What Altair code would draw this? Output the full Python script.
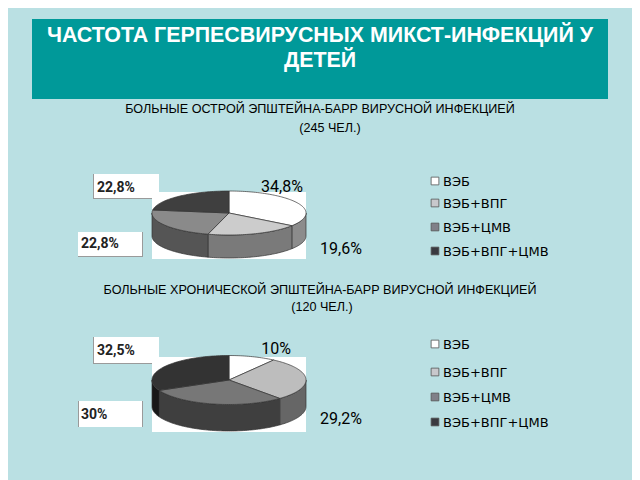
import math
import altair as alt

TITLE = ["ЧАСТОТА ГЕРПЕСВИРУСНЫХ МИКСТ-ИНФЕКЦИЙ У", "ДЕТЕЙ"]
SUB1 = ["БОЛЬНЫЕ ОСТРОЙ ЭПШТЕЙНА-БАРР ВИРУСНОЙ ИНФЕКЦИЕЙ", "(245 ЧЕЛ.)"]
SUB2 = ["БОЛЬНЫЕ ХРОНИЧЕСКОЙ ЭПШТЕЙНА-БАРР ВИРУСНОЙ ИНФЕКЦИЕЙ", "(120 ЧЕЛ.)"]
CATEGORIES = ["ВЭБ", "ВЭБ+ВПГ", "ВЭБ+ЦМВ", "ВЭБ+ВПГ+ЦМВ"]
ACUTE = [34.8, 19.6, 22.8, 22.8]
CHRONIC = [10, 29.2, 30, 32.5]

TOPS1 = ["#ffffff", "#cccccc", "#8a8a8a", "#3f3f3f"]
SIDES1 = ["#8c8c8c", "#7a7a7a", "#555555", "#333333"]
TOPS2 = ["#ffffff", "#bdbdbd", "#777777", "#333333"]
SIDES2 = ["#8c8c8c", "#666666", "#3f3f3f", "#181818"]
SWATCHES = ["#ffffff", "#c8c8cc", "#808088", "#3a3a40"]
BG = "#BAE0E3"
EDGE = "#9a9a9a"
OFF = 8


def arc_pts(a0, a1, cx, cy, rx, ry, dz=0):
    n = max(2, int(abs(a1 - a0) * 40))
    return [[cx + rx * math.sin(a0 + (a1 - a0) * i / n),
             cy - ry * math.cos(a0 + (a1 - a0) * i / n) + dz] for i in range(n + 1)]


def pie_features(values, tops, sides, cx, cy, rx, ry, depth):
    total = sum(values)
    feats, top_feats, a = [], [], 0.0
    for v, tc, sc in zip(values, tops, sides):
        b = a + 2 * math.pi * v / total
        lo, hi = max(a, math.pi / 2), min(b, 3 * math.pi / 2)
        if hi > lo:
            ring = arc_pts(lo, hi, cx, cy, rx, ry) + arc_pts(hi, lo, cx, cy, rx, ry, depth)
            ring.append(ring[0])
            feats.append({"type": "Feature", "properties": {"c": sc},
                          "geometry": {"type": "Polygon", "coordinates": [ring]}})
        ring = [[cx, cy]] + arc_pts(a, b, cx, cy, rx, ry) + [[cx, cy]]
        top_feats.append({"type": "Feature", "properties": {"c": tc},
                          "geometry": {"type": "Polygon", "coordinates": [ring]}})
        a = b
    return feats + top_feats


def rect(x0, y0, x1, y1, color, **kw):
    return alt.Chart(alt.Data(values=[{"a": 1}])).mark_rect(color=color, **kw).encode(
        x=alt.value(x0 - OFF), x2=alt.value(x1 - OFF),
        y=alt.value(y0 - OFF), y2=alt.value(y1 - OFF))


def text(s, x, y, size, align="center", font="Liberation Sans", weight="normal", color="#000000"):
    return alt.Chart(alt.Data(values=[{"t": s}])).mark_text(
        fontSize=size, align=align, baseline="middle", font=font, fontWeight=weight, color=color
    ).encode(text="t:N", x=alt.value(x - OFF), y=alt.value(y - OFF + 1))


def pct(v):
    return f"{v:g}".replace(".", ",") + "%"


def pie(values, tops, sides, cy, ry, depth):
    feats = pie_features(values, tops, sides, 229, cy, 77, ry, depth)
    return alt.Chart(alt.Data(values=feats)).mark_geoshape(stroke="#333333", strokeWidth=0.7).encode(
        color=alt.Color("properties.c:N", scale=None))


def legend(ys, size):
    out = []
    for cat, col, y in zip(CATEGORIES, SWATCHES, ys):
        out.append(alt.Chart(alt.Data(values=[{"c": cat}])).mark_square(
            size=60, color=col, opacity=1, stroke="#555555", strokeWidth=0.8
        ).encode(x=alt.value(435 - OFF), y=alt.value(y - OFF)))
        out.append(text(cat, 443, y, size, align="left", font="DejaVu Sans"))
    return out


layers = [
    rect(32, 19, 608, 99, "#009999"),
    text(TITLE[0], 320, 35, 21.4, weight="bold", color="#ffffff"),
    text(TITLE[1], 320, 60, 21.4, weight="bold", color="#ffffff"),
    text(SUB1[0], 320, 108, 12.6),
    text(SUB1[1], 330, 127, 12.6),
    text(SUB2[0], 320, 289, 12.6),
    text(SUB2[1], 322, 306, 12.6),
    # white backgrounds with a faint edge
    rect(152, 192, 306, 259, "#ffffff"),
    rect(93, 174, 159, 199, "#ffffff"),
    rect(93, 174, 94, 199, EDGE),
    rect(93, 198, 152, 199, EDGE),
    rect(78, 232, 143, 257, "#ffffff"),
    rect(142, 232, 143, 257, EDGE),
    rect(78, 256, 143, 257, EDGE),
    rect(152, 357, 306, 432, "#ffffff"),
    rect(93, 337, 159, 364, "#ffffff"),
    rect(93, 337, 94, 364, EDGE),
    rect(93, 363, 152, 364, EDGE),
    rect(78, 401, 143, 427, "#ffffff"),
    rect(78, 401, 79, 427, EDGE),
    rect(142, 401, 143, 427, EDGE),
    pie(ACUTE, TOPS1, SIDES1, 213, 22, 23),
    pie(CHRONIC, TOPS2, SIDES2, 380, 24.5, 26.5),
    text(pct(ACUTE[0]), 282, 186, 16, font="Roboto"),
    text(pct(ACUTE[1]), 341, 248, 16, font="Roboto"),
    text(pct(ACUTE[2]), 81, 243, 14, align="left", font="Roboto", weight="bold", color="#222222"),
    text(pct(ACUTE[3]), 97, 187, 14, align="left", font="Roboto", weight="bold", color="#222222"),
    text(pct(CHRONIC[0]), 276, 348, 16, font="Roboto"),
    text(pct(CHRONIC[1]), 341, 418, 16, font="Roboto"),
    text(pct(CHRONIC[2]), 81, 414, 14, align="left", font="Roboto", weight="bold", color="#222222"),
    text(pct(CHRONIC[3]), 97, 350, 14, align="left", font="Roboto", weight="bold", color="#222222"),
] + legend([181, 203, 227, 251], 13) + legend([344, 372, 397, 422], 13)

chart = alt.layer(*layers).properties(
    width=624, height=472, padding=0, background=BG,
    autosize=alt.AutoSizeParams(type="none"),
).project(type="identity", scale=1, translate=[-OFF, -OFF]).configure_view(stroke=None)

chart.save("out.html", embed_options={"renderer": "svg", "actions": False})
